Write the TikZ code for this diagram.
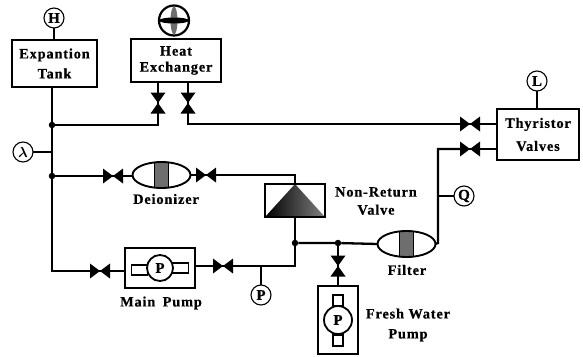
\documentclass[tikz,border=0pt]{standalone}
\usepackage{amsmath}
\usepackage{fontspec}
\setmainfont{Liberation Serif}[LetterSpace=6, BoldFeatures={FakeBold=0.6}]
\usetikzlibrary{shapes.geometric}
\definecolor{cband}{RGB}{110,110,110}
\tikzset{
  lab/.style={font=\fontsize{14.3}{16}\selectfont\bfseries, inner sep=0pt, outer sep=0pt, align=center},
  unit/.style={draw=black, line width=2.2pt, fill=white, inner sep=0pt, outer sep=0pt, lab},
  gauge/.style={circle, draw=black, line width=1.1pt, minimum size=20pt, inner sep=0pt, outer sep=0pt, font=\fontsize{15}{16}\selectfont\bfseries},
  pipe/.style={draw=black, line width=2.3pt},
  sense/.style={draw=black, line width=1.1pt},
  junc/.style={circle, fill=black, minimum size=6.5pt, inner sep=0pt, outer sep=0pt},
  hvalve/.style={minimum width=20pt, minimum height=15pt, inner sep=0pt, outer sep=0pt, path picture={
    \fill[black] (path picture bounding box.north west) -- (path picture bounding box.south east) -- (path picture bounding box.north east) -- (path picture bounding box.south west) -- cycle;
    \draw[black, line width=2.3pt] (path picture bounding box.west) -- (path picture bounding box.east);}},
  vvalve/.style={minimum width=15pt, minimum height=21pt, inner sep=0pt, outer sep=0pt, path picture={
    \fill[black] (path picture bounding box.north west) -- (path picture bounding box.north east) -- (path picture bounding box.south west) -- (path picture bounding box.south east) -- cycle;
    \draw[black, line width=2.3pt] (path picture bounding box.north) -- (path picture bounding box.south);}},
  drum/.style={ellipse, draw=black, line width=1.9pt, minimum width=58pt, minimum height=26pt, inner sep=0pt, outer sep=0pt, path picture={
    \fill[cband] ([xshift=-7pt]path picture bounding box.south) rectangle ([xshift=7pt]path picture bounding box.north);
    \draw[black, line width=1.8pt] ([xshift=-7pt]path picture bounding box.south) -- ([xshift=-7pt]path picture bounding box.north);
    \draw[black, line width=1.8pt] ([xshift=7pt]path picture bounding box.south) -- ([xshift=7pt]path picture bounding box.north);}},
  stub/.style={draw=black, line width=1.7pt, fill=white, inner sep=0pt, outer sep=0pt},
  rotor/.style={circle, draw=black, line width=1.8pt, fill=white, inner sep=0pt, outer sep=0pt, font=\fontsize{15}{16}\selectfont\bfseries}
}

\begin{document}
\begin{tikzpicture}[x=1pt, y=-1pt]
  \useasboundingbox (0,0) rectangle (583,356);

  \node[unit, minimum width=85pt, minimum height=47pt] (etank) at (54.5,63.5) {Expantion\\[4pt]Tank};

  \node[unit, minimum width=90pt, minimum height=43pt] (hx) at (176,60.5) {Heat\\Exchanger};

  \node[unit, minimum width=82pt, minimum height=51pt] (thy) at (538,134.5) {Thyristor\\[7pt]Valves};

  \node[gauge] (gaugeH) at (54,18) {H};

  \node[gauge] (gaugeL) at (537,81) {L};

  \node[gauge] (gaugeQ) at (464,196) {Q};

  \node[gauge] (gaugeP) at (261,295) {P};

  \node[gauge] (gaugeLam) at (23,152) {$\boldsymbol{\lambda}$};

  \node[circle, draw=black, line width=2.2pt, minimum size=30pt, inner sep=0pt, outer sep=0pt, path picture={
    \fill[cband] (0,0) ellipse (3.5pt and 14pt);
    \fill[black] (0,0) ellipse (15pt and 3pt);}] (fan) at (174,20.5) {};

  \node[junc] (jTop) at (52,125) {};

  \node[junc] (jDei) at (52,176) {};

  \node[junc] (jNrv) at (295,243) {};

  \node[junc] (jFresh) at (338,243) {};

  \coordinate (bendQ) at (438,243);

  \node[vvalve] (valveHa) at (158,103) {};

  \node[vvalve] (valveHb) at (188,103) {};

  \node[hvalve] (valveTa) at (470,124) {};

  \node[hvalve] (valveTb) at (470,149) {};

  \node[hvalve] (valveDa) at (113,176) {};

  \node[hvalve] (valveDb) at (206,175) {};

  \node[hvalve] (valveMa) at (100,271) {};

  \node[hvalve] (valveMb) at (223,266) {};

  \node[vvalve] (valveF) at (338,266) {};

  \node[drum] (deion) at (161.5,175) {};

  \node[drum] (filter) at (406.5,244) {};

  \node[draw=black, line width=1.9pt, minimum width=60pt, minimum height=33pt, inner sep=0pt, outer sep=0pt, path picture={
    \shade[left color=black, right color=black!50] (path picture bounding box.north) -- (path picture bounding box.south east) -- (path picture bounding box.south west) -- cycle;}] (nrv) at (295,200.5) {};

  \node[draw=black, line width=2.2pt, minimum width=70pt, minimum height=40pt, inner sep=0pt, outer sep=0pt] (mainbox) at (160,268) {};

  \node[stub, minimum width=16pt, minimum height=10pt] (mainL) at (139.5,270) {};

  \node[stub, minimum width=16pt, minimum height=10pt] (mainR) at (180.5,268) {};

  \node[rotor, minimum size=26pt] (mainP) at (160,268) {P};

  \node[draw=black, line width=2.2pt, minimum width=40pt, minimum height=68pt, inner sep=0pt, outer sep=0pt] (freshbox) at (338,320) {};

  \node[stub, minimum width=10pt, minimum height=11pt] (freshT) at (338,300.5) {};

  \node[stub, minimum width=10pt, minimum height=11pt] (freshB) at (338,340.5) {};

  \node[rotor, minimum size=28pt] (freshP) at (338,320) {P};

  \node[lab] (labDei) at (166,199) {Deionizer};

  \node[lab] (labNrv) at (376,201) {Non-Return\\[2pt]Valve};

  \node[lab] (labFil) at (407,270) {Filter};

  \node[lab] (labMain) at (161,303) {Main\hspace{3pt} Pump};

  \node[lab] (labFresh) at (408,325) {Fresh Water\\[4pt]Pump};

  \draw[sense] (gaugeH) -- (gaugeH |- etank.north);

  \draw[sense] (gaugeL) -- (gaugeL |- thy.north);

  \draw[sense] (gaugeQ) -- (gaugeQ -| bendQ);

  \draw[sense] (gaugeLam) -- (gaugeLam -| jTop);

  \draw[sense] (gaugeP) -- (gaugeP |- valveMb);

  \draw[pipe] (etank.south -| jTop) -- (jTop) -- (jDei);

  \draw[pipe] (jTop) -| (valveHa);

  \draw[pipe] (valveHa) -- (valveHa |- hx.south);

  \draw[pipe] (valveHb) -- (valveHb |- hx.south);

  \draw[pipe] (valveHb) |- (valveTa);

  \draw[pipe] (valveTa) -- (valveTa -| thy.west);

  \draw[pipe] (valveTb) -- (valveTb -| thy.west);

  \draw[pipe] (valveTb) -| (bendQ) -- (filter.east);

  \draw[pipe] (jDei) -- (valveDa);

  \draw[pipe] (valveDa) -- (valveDa -| deion.west);

  \draw[pipe] (valveDb) -- (valveDb -| deion.east);

  \draw[pipe] (valveDb) -| (nrv.north);

  \draw[pipe] (nrv.south) -- (jNrv);

  \draw[pipe] (jNrv) |- (valveMb);

  \draw[pipe] (valveMb) -- (valveMb -| mainbox.east);

  \draw[pipe] (jDei) |- (valveMa);

  \draw[pipe] (valveMa) -- (valveMa -| mainbox.west);

  \draw[pipe] (jNrv) -- (jFresh) -- (filter.west);

  \draw[pipe] (jFresh) -- (valveF);

  \draw[pipe] (valveF) -- (freshbox.north);

\end{tikzpicture}
\end{document}
